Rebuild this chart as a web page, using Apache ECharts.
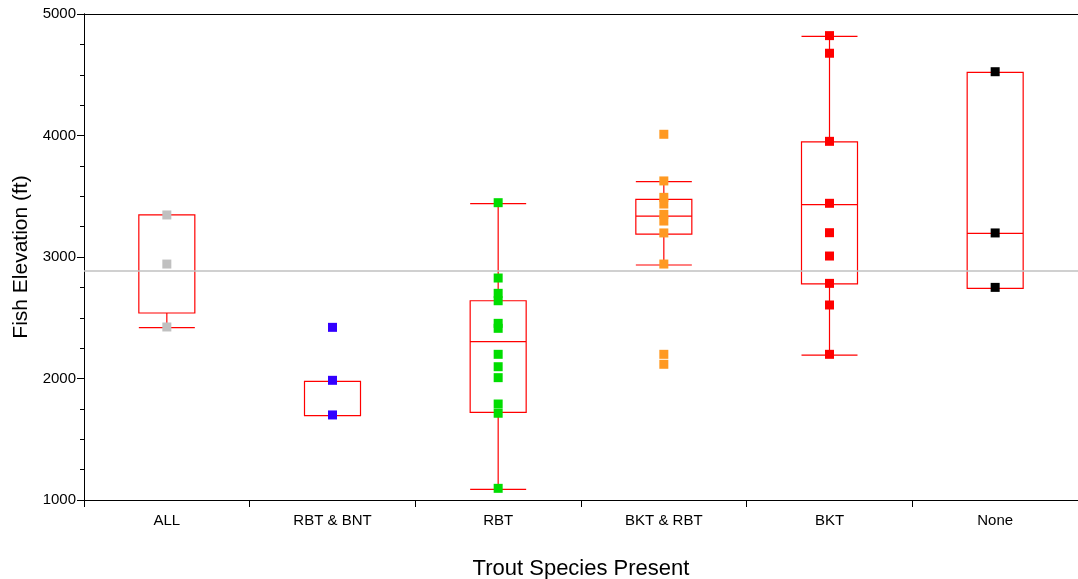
<!DOCTYPE html>
<html>
<head>
<meta charset="utf-8">
<script src="https://cdn.jsdelivr.net/npm/echarts@6/dist/echarts.min.js"></script>
<style>
html,body{margin:0;padding:0;background:#fff;}
#chart{width:1078px;height:579px;}
</style>
</head>
<body>
<div id="chart"></div>
<script>
// Categories and data
const categories = ['ALL', 'RBT & BNT', 'RBT', 'BKT & RBT', 'BKT', 'None'];
const pointColors = ['#c0c0c0', '#3300ff', '#00dd00', '#ff9922', '#ff0000', '#000000'];

// Box statistics: [min, Q1, median, Q3, max]
const boxAll = [2418, 2539, 3346, 3346, 3346];
const boxRbtBnt = [1694, 1694, 1977, 1977, 1977];
const boxRbt = [1088, 1722, 2303, 2640, 3439];
const boxBktRbt = [2934, 3189, 3337, 3475, 3620];
const boxBkt = [2193, 2778, 3431, 3947, 4816];
const boxNone = [2742, 2742, 3195, 4520, 4520];

// Observed points
const ptsAll = [3346, 2942, 2424];
const ptsRbtBnt = [2421, 1985, 1700];
const ptsRbt = [3447, 2827, 2701, 2640, 2454, 2413, 2199, 2097, 2007, 1790, 1714, 1096];
const ptsBktRbt = [4010, 3626, 3491, 3436, 3351, 3296, 3198, 2942, 2199, 2117];
const ptsBkt = [4822, 4677, 3952, 3442, 3200, 3008, 2783, 2605, 2199];
const ptsNone = [4525, 3198, 2750];

const referenceValue = 2890;
const yTicks = [1000, 2000, 3000, 4000, 5000];

const boxes = [boxAll, boxRbtBnt, boxRbt, boxBktRbt, boxBkt, boxNone];
const pts = [ptsAll, ptsRbtBnt, ptsRbt, ptsBktRbt, ptsBkt, ptsNone];

const scatterData = [];
pts.forEach((arr, i) => {
  arr.forEach(v => scatterData.push({ value: [i, v], itemStyle: { color: pointColors[i], opacity: 1 } }));
});

const chart = echarts.init(document.getElementById('chart'), null, { renderer: 'canvas' });
const font = 'Liberation Sans, Arial, sans-serif';
chart.setOption({
  animation: false,
  backgroundColor: '#fff',
  grid: { left: 84, right: 0, top: 14, bottom: 79, containLabel: false, outerBoundsMode: 'none' },
  xAxis: [{
    type: 'category',
    data: categories,
    position: 'bottom',
    name: 'Trout Species Present',
    nameLocation: 'middle',
    nameGap: 58,
    nameTextStyle: { fontFamily: font, fontSize: 22, color: '#000' },
    axisLine: { lineStyle: { color: '#000', width: 1 } },
    axisTick: { show: true, length: 7, lineStyle: { color: '#000' } },
    axisLabel: { fontFamily: font, fontSize: 15, color: '#000', margin: 13 },
    splitLine: { show: false }
  }, {
    type: 'category',
    data: categories,
    position: 'top',
    axisLine: { lineStyle: { color: '#000', width: 1 } },
    axisTick: { show: false },
    axisLabel: { show: false },
    splitLine: { show: false }
  }],
  yAxis: [{
    type: 'value',
    min: yTicks[0],
    max: yTicks[yTicks.length - 1],
    interval: 1000,
    position: 'left',
    name: 'Fish Elevation (ft)',
    nameLocation: 'middle',
    nameGap: 52,
    nameTextStyle: { fontFamily: font, fontSize: 21, color: '#000' },
    axisLine: { show: true, onZero: false, lineStyle: { color: '#000', width: 1 } },
    axisTick: { show: true, length: 7, lineStyle: { color: '#000' } },
    axisLabel: { fontFamily: font, fontSize: 15, color: '#000', margin: 8, formatter: v => String(v) },
    splitLine: { show: false }
  }, {
    type: 'value',
    min: yTicks[0],
    max: yTicks[yTicks.length - 1],
    interval: 250,
    position: 'left',
    offset: 0,
    axisLine: { show: true, onZero: false, lineStyle: { color: '#000', width: 1 } },
    axisTick: { show: true, length: 4, lineStyle: { color: '#000', width: 1 } },
    axisLabel: { show: false },
    splitLine: { show: false }
  }],
  series: [{
    type: 'boxplot',
    data: boxes,
    boxWidth: [56, 56],
    itemStyle: { color: 'rgba(0,0,0,0)', borderColor: '#ff0000', borderWidth: 1.2 },
    emphasis: { disabled: true },
    z: 2
  }, {
    type: 'scatter',
    data: scatterData,
    symbol: 'rect',
    symbolSize: 9,
    itemStyle: { opacity: 1 },
    z: 3,
    markLine: {
      silent: true,
      symbol: ['none', 'none'],
      label: { show: false },
      lineStyle: { color: '#c0c0c0', width: 1.5, type: 'solid' },
      data: [{ yAxis: referenceValue }]
    }
  }]
});
</script>
</body>
</html>
